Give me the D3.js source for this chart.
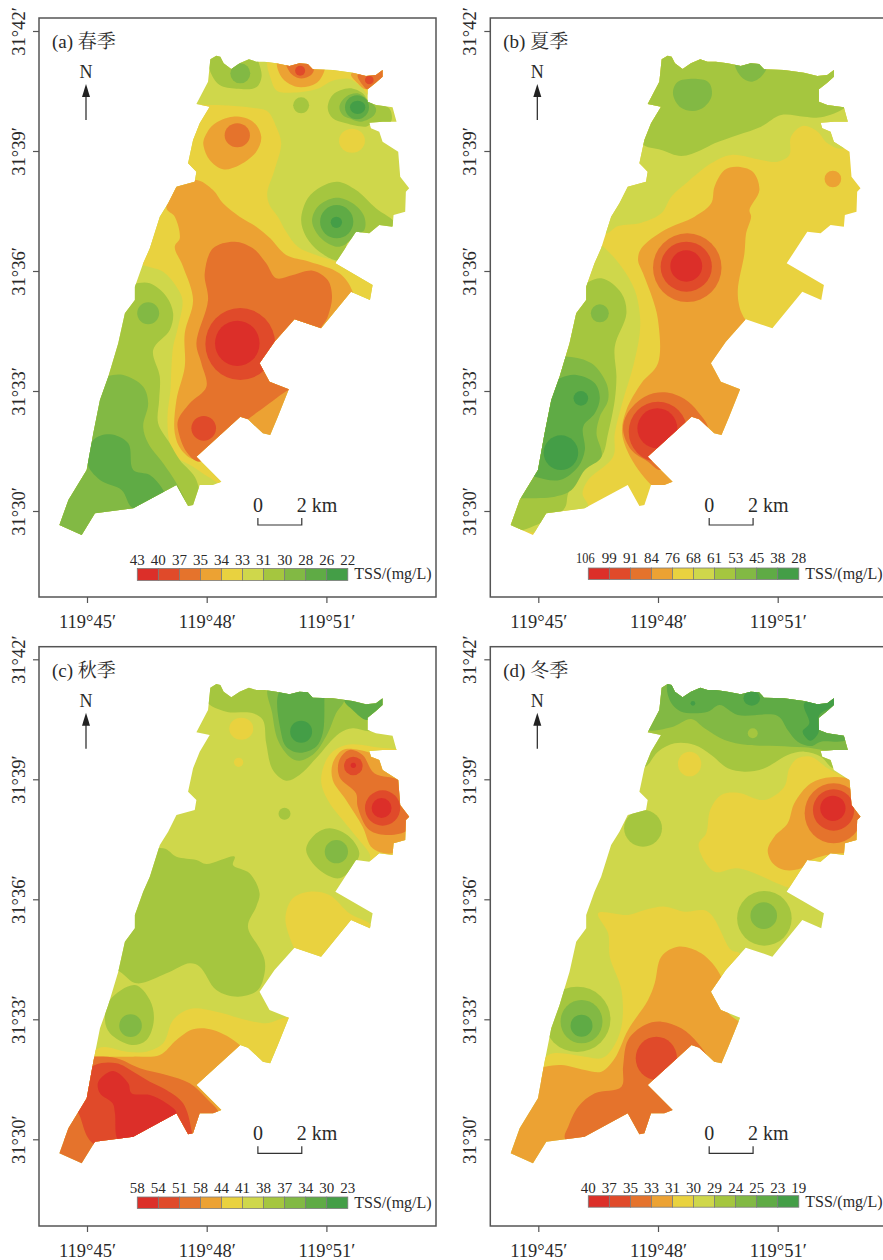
<!DOCTYPE html>
<html><head><meta charset="utf-8">
<script src="https://cdnjs.cloudflare.com/ajax/libs/d3/7.8.5/d3.min.js"></script>
<style>html,body{margin:0;padding:0;background:#fff;overflow:hidden}svg{display:block}</style>
</head><body><svg id="c" width="883" height="1260"></svg>
<script>
// Map data is digitised on a grid of 1/120 arc-minute (col eastward, row southward).
// row 1533 = 31°30'. col origin (119°45') is given for each panel sheet.
const classColors=["#DC2F29","#E04A2A","#E5732C","#ECA233","#E9D23F","#CFD74B","#A5C63F","#82B944","#5FAB45","#449E47"];
const lonTicks=[45,48,51];
const latTicks=[30,33,36,39,42];
const legendA=[43,40,37,35,34,33,31,30,28,26,22];
const legendB=[106,99,91,84,76,68,61,53,45,38,28];
const legendC=[58,54,51,58,44,41,38,37,34,30,23];
const legendD=[40,37,35,33,31,30,29,24,25,23,19];
const outline=[[632,178],[650,167],[662,170],[672,190],[695,207],[720,190],[748,178],[770,185],[795,185],[830,190],[870,198],[900,190],[925,192],[940,208],[1000,210],[1060,218],[1100,228],[1130,225],[1150,210],[1150,230],[1130,248],[1105,268],[1105,305],[1130,315],[1180,322],[1192,365],[1150,365],[1110,368],[1115,385],[1140,395],[1150,425],[1197,455],[1203,530],[1230,565],[1220,575],[1218,635],[1183,645],[1180,680],[1140,675],[1110,700],[1070,695],[1008,790],[1120,855],[1112,900],[1055,875],[965,985],[885,958],[825,1025],[780,1090],[810,1145],[868,1168],[835,1250],[812,1305],[790,1300],[745,1258],[722,1250],[590,1370],[665,1445],[640,1455],[600,1455],[580,1515],[565,1518],[530,1455],[400,1525],[285,1540],[245,1605],[178,1575],[205,1500],[260,1410],[280,1300],[300,1200],[325,1130],[355,1030],[375,940],[405,900],[405,860],[430,790],[450,745],[480,650],[505,610],[530,560],[585,545],[590,515],[565,490],[580,420],[600,370],[630,320],[590,312],[625,245]];

// entries: [class, points] or [class, cx, cy, rx, ry]
const bandsA=[
[4,[[420,785],[490,815],[530,860],[548,900],[535,980],[520,1040],[515,1100],[512,1170],[503,1250],[510,1330],[530,1370],[580,1400],[625,1430],[690,1460],[700,1300],[1000,1000],[1140,900],[1130,850],[1010,785],[950,765],[895,740],[860,695],[835,650],[810,615],[803,580],[825,510],[845,430],[830,380],[805,335],[770,325],[630,315],[580,320],[540,420],[500,500],[440,700]]],
[3,[[500,625],[530,560],[590,540],[640,570],[670,610],[720,650],[770,680],[812,715],[860,765],[930,785],[1020,820],[1060,875],[1080,1000],[900,1170],[900,1320],[780,1350],[700,1340],[590,1380],[545,1350],[525,1300],[530,1200],[555,1100],[555,1000],[580,900],[550,800],[525,740],[540,715],[525,650]]],
[2,[[705,725],[760,745],[800,790],[830,835],[880,825],[940,812],[985,840],[998,890],[985,950],[960,1000],[1000,1100],[890,1165],[868,1170],[790,1225],[745,1258],[700,1300],[600,1385],[560,1355],[535,1290],[535,1260],[570,1210],[620,1160],[605,1090],[590,1030],[625,900],[615,820],[640,745]]],
[1,722,1032,105,108],[0,713,1030,67,68],[1,612,1285,37,37],
[6,[[370,860],[400,852],[450,850],[500,890],[520,940],[510,990],[460,1050],[480,1130],[478,1200],[475,1270],[510,1330],[540,1380],[590,1440],[590,1530],[100,1600],[100,1200],[300,900]]],
[7,[[370,1125],[430,1160],[445,1210],[430,1280],[445,1330],[490,1390],[530,1450],[565,1525],[575,1600],[100,1650],[100,1300],[300,1140],[325,1128]]],
[7,445,940,33,33],
[8,[[262,1390],[280,1320],[330,1303],[385,1330],[400,1410],[450,1425],[490,1470],[500,1500],[400,1525],[365,1470],[300,1440]]],
[6,[[625,150],[630,210],[660,255],[710,266],[770,262],[786,230],[778,190],[760,150]]],
[7,722,220,30,30],
[4,[[808,170],[815,240],[832,272],[870,278],[950,268],[1000,242],[1050,237],[1085,260],[1110,285],[1160,220],[1100,170]]],
[3,[[835,180],[842,225],[870,252],[905,262],[950,250],[975,212],[975,170]]],
[2,[[860,180],[870,215],[900,235],[935,225],[945,205],[945,180]]],
[1,902,212,15,15],
[3,[[1055,222],[1075,250],[1100,268],[1130,245],[1155,225],[1150,205],[1100,210]]],
[2,[[1075,225],[1090,255],[1105,268],[1130,248],[1155,228],[1150,205],[1100,215]]],
[1,1110,240,13,13],
[6,905,316,24,24],
[6,[[985,325],[1000,285],[1050,265],[1090,280],[1110,305],[1170,325],[1175,365],[1120,370],[1100,380],[1040,370],[1000,355]]],
[7,[[1020,320],[1040,290],[1075,280],[1105,300],[1130,325],[1125,345],[1085,365],[1050,355],[1030,345]]],
[8,1073,322,36,36],[9,1075,322,23,20],
[4,1058,422,39,36],
[6,[[905,660],[925,595],[965,560],[1015,545],[1070,570],[1130,625],[1185,670],[1120,710],[1060,700],[1020,780],[960,755],[920,710]]],
[7,[[938,665],[955,620],[1010,593],[1060,610],[1095,650],[1095,690],[1070,705],[1035,735],[1010,740],[965,715]]],
[8,1012,665,50,50],[9,1011,667,17,17],
[3,[[612,420],[640,375],[700,350],[760,365],[785,410],[770,455],[720,495],[670,508],[630,480],[612,440]]],
[2,713,406,38,36]
];
const bandsB=[
[5,[[480,700],[520,678],[590,668],[650,640],[680,590],[730,545],[800,490],[860,465],[950,480],[1000,485],[1035,465],[1040,410],[1075,378],[1120,395],[1150,430],[1200,445],[1300,300],[1300,100],[600,100],[400,500]]],
[5,[[440,720],[475,740],[530,800],[570,870],[585,940],[585,1000],[565,1100],[535,1200],[510,1300],[505,1370],[430,1440],[413,1480],[430,1525],[300,1600],[100,1500],[300,900]]],
[6,[[590,430],[650,450],[710,468],[770,450],[810,430],[880,405],[950,380],[1010,345],[1080,350],[1130,352],[1210,318],[1300,200],[1200,100],[600,100],[550,300]]],
[7,[[685,280],[700,245],[790,245],[802,285],[780,320],[745,333],[705,320]]],
[7,[[870,190],[890,230],[920,245],[950,230],[968,200],[960,150],[880,150]]],
[6,[[400,860],[470,835],[530,880],[545,940],[510,1040],[515,1130],[510,1200],[490,1300],[470,1370],[400,1420],[370,1480],[355,1530],[100,1600],[100,1200],[300,900]]],
[7,[[370,1070],[440,1090],[485,1150],[490,1200],[465,1250],[455,1300],[470,1370],[420,1410],[380,1470],[330,1490],[235,1495],[100,1500],[100,1200],[300,1075]]],
[8,[[345,1135],[395,1125],[450,1150],[465,1195],[450,1240],[415,1280],[420,1350],[400,1400],[345,1440],[270,1430],[200,1400],[250,1200]]],
[9,348,1358,52,52],[9,408,1195,22,22],[7,465,940,27,27],
[3,[[875,500],[925,515],[945,570],[915,630],[920,650],[905,700],[900,760],[880,870],[885,920],[900,955],[1000,1100],[950,1300],[800,1400],[700,1480],[640,1470],[565,1385],[532,1300],[545,1230],[590,1150],[640,1090],[640,960],[625,900],[595,820],[580,780],[590,745],[660,690],[750,650],[800,610],[810,560],[840,510]]],
[2,728,803,103,103],[1,725,800,77,75],[0,725,798,48,47],
[3,1166,537,25,25],
[2,[[535,1290],[548,1240],[600,1190],[660,1177],[720,1197],[760,1235],[790,1285],[760,1310],[650,1410],[610,1385],[560,1350]]],
[1,640,1295,88,90],[0,638,1285,60,60]
];
const bandsC=[
[6,[[620,220],[680,250],[760,255],[790,275],[800,345],[820,425],[860,457],[900,440],[950,390],[1020,315],[1060,300],[1120,307],[1200,235],[1150,165],[600,155]]],
[7,[[808,175],[818,255],[835,335],[870,385],[900,397],[945,375],[985,315],[1010,255],[1035,215],[1020,175]]],
[8,[[843,185],[845,315],[860,355],[900,373],[950,355],[970,315],[975,210],[975,175]]],
[9,905,310,33,33],
[8,[[1035,215],[1060,245],[1105,275],[1160,220],[1150,175]]],
[4,725,301,36,33],[4,717,402,14,14],[6,855,556,18,18],
[4,[[1040,350],[990,380],[965,455],[985,515],[1030,575],[1075,630],[1110,675],[1118,705],[1200,715],[1300,535],[1250,385],[1120,355]]],
[3,[[1030,365],[1000,405],[1000,455],[1040,515],[1090,595],[1120,660],[1180,675],[1225,640],[1300,585],[1210,435],[1140,385],[1080,365]]],
[2,[[1050,365],[1020,395],[1020,445],[1070,495],[1075,535],[1110,605],[1170,620],[1225,605],[1235,560],[1205,460],[1125,435],[1090,380]]],
[1,1062,413,28,28],[0,1062,411,8,8],[1,1150,539,53,53],[0,1147,539,30,30],
[6,[[920,665],[945,620],[990,600],[1050,625],[1080,675],[1060,715],[1020,750],[960,725]]],
[7,1011,670,35,35],
[4,[[858,865],[880,810],[930,790],[990,800],[1050,855],[1115,890],[1130,935],[1050,1035],[960,1035],[900,985],[870,925]]],
[6,[[490,660],[530,685],[590,695],[620,707],[705,685],[700,710],[750,735],[780,795],[770,835],[745,895],[780,960],[795,995],[795,1035],[775,1085],[715,1105],[650,1085],[600,1015],[570,1005],[500,1035],[410,1065],[360,1030],[300,1000],[300,700]]],
[6,[[405,1070],[450,1115],[462,1175],[440,1235],[395,1250],[330,1215],[315,1175],[330,1115]]],
[7,392,1192,34,34],
[4,[[295,1260],[380,1270],[440,1270],[490,1245],[520,1175],[570,1142],[650,1150],[740,1175],[800,1185],[880,1170],[900,1400],[200,1400]]],
[3,[[280,1285],[400,1285],[480,1280],[530,1235],[580,1203],[640,1205],[720,1250],[750,1300],[700,1500],[100,1500],[100,1285]]],
[2,[[270,1285],[350,1290],[420,1320],[500,1340],[570,1365],[620,1410],[660,1460],[640,1520],[600,1600],[100,1650],[100,1300]]],
[1,[[285,1310],[350,1305],[400,1330],[450,1360],[500,1385],[550,1425],[575,1505],[578,1560],[400,1620],[285,1550],[262,1525],[238,1460],[200,1380]]],
[0,[[340,1328],[385,1365],[395,1395],[450,1400],[500,1425],[530,1455],[400,1540],[355,1535],[345,1455],[338,1425],[300,1395],[295,1360]]]
];
const bandsD=[
[6,[[600,415],[640,370],[690,345],[750,350],[800,380],[850,420],[900,430],[960,420],[1030,380],[1080,370],[1130,385],[1170,420],[1260,355],[1200,135],[620,135],[560,335]]],
[7,[[600,303],[680,297],[740,272],[780,300],[840,335],[910,350],[1000,353],[1080,357],[1220,363],[1260,235],[1200,135],[620,135],[560,235]]],
[8,[[675,155],[675,215],[710,250],[790,250],[825,230],[880,260],[1000,263],[1030,305],[1060,340],[1100,353],[1130,340],[1210,333],[1250,235],[1200,135]]],
[9,[[1080,225],[1095,285],[1075,310],[1098,337],[1122,315],[1125,260],[1170,230],[1170,205]]],
[9,922,210,25,22],[9,745,225,7,7],[6,925,315,15,15],
[4,735,407,35,37],[3,1080,415,22,22],
[4,[[1035,420],[1060,390],[1100,385],[1150,420],[1195,445],[1300,535],[1280,735],[1100,795],[1030,777],[880,720],[810,730],[762,650],[785,615],[797,545],[830,500],[880,493],[960,515],[1020,475]]],
[3,[[970,665],[990,625],[1030,585],[1050,525],[1100,465],[1160,447],[1220,455],[1300,535],[1260,695],[1200,675],[1100,695],[1070,720],[1020,725],[985,705]]],
[2,1168,555,87,90],[1,1168,545,62,62],[0,1166,540,38,38],
[6,595,600,57,55],
[6,960,870,82,82],[7,958,862,40,40],
[4,[[460,855],[550,860],[600,845],[660,835],[720,850],[790,850],[860,965],[885,975],[900,1040],[700,1300],[400,1400],[280,1350],[310,1280],[420,1285],[470,1290],[500,1265],[530,1195],[530,1085],[495,985],[490,915]]],
[3,[[300,1315],[350,1310],[420,1325],[470,1330],[510,1290],[550,1205],[610,1115],[630,1065],[650,985],[700,955],[770,975],[830,1045],[850,1150],[900,1200],[900,1350],[700,1600],[100,1650],[150,1350]]],
[2,[[360,1530],[370,1495],[400,1435],[450,1395],[530,1375],[535,1315],[550,1235],[600,1190],[650,1180],[710,1200],[760,1245],[790,1295],[770,1330],[720,1500],[450,1600]]],
[1,635,1290,62,65],
// west rings
[6,397,1173,100,98],[7,410,1180,63,65],[8,410,1192,33,33]
];
const sheets=[
 {id:"a",name:"(a) 春季",bands:bandsA,base:5,legend:legendA,col45:261,px:87,py:511,fx:39,fy:18,fb:597,lgX:137.3,lgY:568.5,lgH:12,lgTxt:565,tssY:579},
 {id:"b",name:"(b) 夏季",bands:bandsB,base:4,legend:legendB,col45:280,px:538.3,py:511,fx:490.3,fy:18,fb:597,lgX:588.3,lgY:568,lgH:11.5,lgTxt:563,tssY:579},
 {id:"c",name:"(c) 秋季",bands:bandsC,base:5,legend:legendC,col45:261,px:87,py:1139.3,fx:39,fy:646.7,fb:1226,lgX:137.3,lgY:1197,lgH:11.5,lgTxt:1193,tssY:1208},
 {id:"d",name:"(d) 冬季",bands:bandsD,base:5,legend:legendD,col45:280,px:538.3,py:1139.3,fx:490.3,fy:646.7,fb:1226,lgX:588.3,lgY:1195.7,lgH:11.5,lgTxt:1193,tssY:1207}
];
const serif='"Liberation Serif","Noto Serif CJK SC","Noto Sans CJK SC",serif';
const svg=d3.select("#c");
const defs=svg.append("defs");
const ink="#2a2a2a",frameCol="#555";

sheets.forEach(s=>{
  const x=d3.scaleLinear().domain([45,51]).range([s.px,s.px+239.4]);
  const y=d3.scaleLinear().domain([30,42]).range([s.py,s.py-480]);
  const lon=(c,o)=>45+(c-o)/120, lat=r=>30+(1533-r)/120;
  const g=svg.append("g");
  g.append("rect").attr("x",s.fx).attr("y",s.fy).attr("width",397).attr("height",s.fb-s.fy)
    .attr("fill","#fff").attr("stroke",frameCol).attr("stroke-width",1.5);
  const outlineLine=d3.line().x(d=>x(lon(d[0],261))).y(d=>y(lat(d[1])));
  defs.append("clipPath").attr("id","clip-"+s.id).append("path").attr("d",outlineLine(outline)+"Z");
  const m=g.append("g").attr("clip-path",`url(#clip-${s.id})`);
  m.append("rect").attr("x",s.fx).attr("y",s.fy).attr("width",397).attr("height",s.fb-s.fy).attr("fill",classColors[s.base]);
  const curve=d3.line().x(d=>x(lon(d[0],s.col45))).y(d=>y(lat(d[1]))).curve(d3.curveCatmullRomClosed.alpha(0.5));
  s.bands.forEach(b=>{
    if(b.length===2){
      m.append("path").attr("d",curve(b[1])).attr("fill",classColors[b[0]]);
    }else{
      m.append("ellipse").attr("cx",x(lon(b[1],s.col45))).attr("cy",y(lat(b[2])))
       .attr("rx",x(45+b[3]/120)-x(45)).attr("ry",y(30)-y(30+b[4]/120)).attr("fill",classColors[b[0]]);
    }
  });
  const ax=g.append("g").attr("transform",`translate(0,${s.fb})`).call(d3.axisBottom(x).tickValues(lonTicks).tickFormat(d=>`119°${d}′`).tickSize(6).tickSizeOuter(0));
  const ay=g.append("g").attr("transform",`translate(${s.fx},0)`).call(d3.axisLeft(y).tickValues(latTicks).tickFormat(d=>`31°${d}′`).tickSize(6).tickSizeOuter(0));
  [ax,ay].forEach(a=>{a.select(".domain").remove();a.selectAll("line").attr("stroke",frameCol).attr("stroke-width",1.2);
    a.selectAll("text").attr("font-family",serif).attr("font-size",18.5).attr("fill",ink);});
  ax.selectAll("text").attr("y",31).attr("dy",0);
  ay.selectAll("text").attr("text-anchor","middle").attr("x",0).attr("dy",0).attr("y",-14).attr("transform","rotate(-90)");
  g.append("text").attr("x",s.fx+13).attr("y",s.fy+30).attr("font-family",serif).attr("font-size",19).attr("fill",ink).text(s.name);
  const nx=x(45)-1,t=s.fy;
  g.append("text").attr("x",nx).attr("y",t+60).attr("text-anchor","middle").attr("font-family",serif).attr("font-size",18).attr("fill",ink).text("N");
  g.append("line").attr("x1",nx).attr("x2",nx).attr("y1",t+78).attr("y2",t+102).attr("stroke","#222").attr("stroke-width",1.2);
  g.append("path").attr("d",`M${nx},${t+66}L${nx+4},${t+79}L${nx-4},${t+79}Z`).attr("fill","#222");
  const sb0=x(49.283),sb1=x(49.283+1.1),sbY=y(30)+14;
  g.append("path").attr("d",`M${sb0},${sbY-7}V${sbY}H${sb1}V${sbY-7}`).attr("fill","none").attr("stroke","#333").attr("stroke-width",1.2);
  g.append("text").attr("x",sb0).attr("y",sbY-13).attr("text-anchor","middle").attr("font-family",serif).attr("font-size",20).attr("fill",ink).text("0");
  g.append("text").attr("x",sb1-5).attr("y",sbY-13).attr("font-family",serif).attr("font-size",20).attr("fill",ink).text("2 km");
  const lx=d3.scaleLinear().domain([0,10]).range([s.lgX,s.lgX+210.5]);
  classColors.forEach((c,i)=>{
    g.append("rect").attr("x",lx(i)).attr("y",s.lgY).attr("width",lx(1)-lx(0)).attr("height",s.lgH)
      .attr("fill",c).attr("stroke","#7a7a7a").attr("stroke-width",0.8);
  });
  s.legend.forEach((v,i)=>{
    const t=g.append("text").attr("x",lx(i)-(v>=100?3:0)).attr("y",s.lgTxt).attr("text-anchor","middle").attr("font-family",serif).attr("font-size",15).attr("fill",ink).text(v);
    if(v>=100) t.attr("textLength",18.5).attr("lengthAdjust","spacingAndGlyphs");
  });
  g.append("text").attr("x",lx(10)+6.5).attr("y",s.tssY).attr("font-family",serif).attr("font-size",16).attr("fill",ink).text("TSS/(mg/L)");
});
</script></body></html>
